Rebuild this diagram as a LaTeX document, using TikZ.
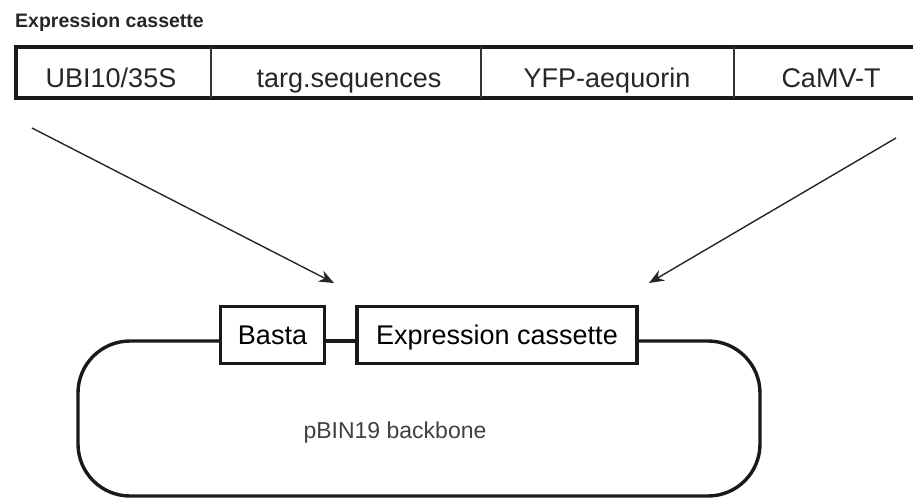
\documentclass[tikz,border=0pt]{standalone}
\usepackage{fontspec}
\setmainfont{Liberation Sans}
\usetikzlibrary{arrows.meta}
\begin{document}
\begin{tikzpicture}[x=1pt,y=-1pt,
  lbl/.style={font=\fontsize{27}{30}\selectfont, text height=19.5pt, text depth=0pt, inner sep=0pt, text=black!85},
  outline/.style={line width=3.4pt, draw=black!90},
  divider/.style={line width=1.3pt, draw=black!80},
  boxnode/.style={draw=black!90, line width=3.2pt, inner sep=0pt, minimum height=57pt, font=\fontsize{27}{30}\selectfont, text height=19.5pt, text depth=0pt},
  arr/.style={line width=1.4pt, draw=black!85, -{Stealth[length=15pt,width=12pt]}}]
\useasboundingbox (0,0) rectangle (913,499);
% title
\node[anchor=base west, inner sep=0pt, font=\bfseries\fontsize{19.5}{22}\selectfont, text=black!85] (title) at (15,27) {Expression cassette};
% cassette outline
\coordinate (tl) at (16,47);
\coordinate (bl) at (16,98);
\coordinate (tr) at (915,47);
\coordinate (br) at (915,98);
\draw[outline] (tr) -- (tl) -- (bl) -- (br);
% dividers
\foreach \x/\n in {211/a,481/b,734/c} {
  \coordinate (\n t) at (\x,47);
  \coordinate (\n b) at (\x,98);
  \draw[divider] (\n t) -- (\n b);
}
% labels
\node[lbl] (ubi) at (111,78) {UBI10/35S};
\node[lbl] (targ) at (349,78) {targ.sequences};
\node[lbl] (yfp) at (607,78) {YFP-aequorin};
\node[lbl] (camv) at (831,78) {CaMV-T};
% arrows
\coordinate (s1) at (32,128);
\coordinate (e1) at (334,283);
\coordinate (s2) at (896,138);
\coordinate (e2) at (649,283);
\draw[arr] (s1) -- (e1);
\draw[arr] (s2) -- (e2);
% bottom boxes
\node[boxnode, minimum width=104pt] (basta) at (272.5,335) {Basta};
\node[boxnode, minimum width=280pt] (ec) at (497,335) {Expression cassette};
% backbone
\coordinate (bbL) at (220,341);
\coordinate (bbR) at (637,341);
\draw[outline, rounded corners=52pt] (bbL) -- (78,341) -- (78,496) -- (760,496) -- (760,341) -- (bbR);
\draw[outline] (basta.east |- bbL) -- (ec.west |- bbL);
% backbone label
\node[inner sep=0pt, font=\fontsize{23}{26}\selectfont, text=black!75, text height=16.5pt, text depth=0pt] (pbin) at (395,430) {pBIN19 backbone};
\end{tikzpicture}
\end{document}
